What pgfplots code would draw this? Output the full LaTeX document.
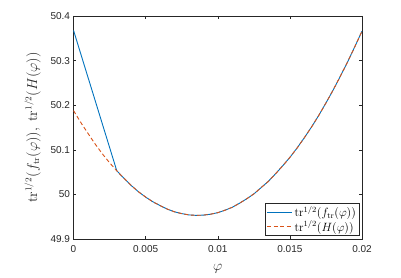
\documentclass[border=0pt]{standalone}
\usepackage[no-math]{fontspec}
\setmainfont{Liberation Sans}
\usepackage{pgfplots}
\pgfplotsset{compat=1.18}
\definecolor{mblue}{rgb}{0,0.447,0.741}
\definecolor{mred}{rgb}{0.85,0.325,0.098}
\definecolor{axgray}{rgb}{0.15,0.15,0.15}
\begin{document}
\fontsize{10pt}{12pt}\selectfont
\begin{tikzpicture}
\useasboundingbox (-73.5pt,-39pt) rectangle (327.5pt,239pt);
\begin{axis}[
  at={(0,0)}, anchor=south west,
  scale only axis, width=288.5pt, height=223pt,
  xmin=0, xmax=0.02, ymin=49.9, ymax=50.4,
  scaled x ticks=false, scaled y ticks=false,
  xtick={0,0.005,0.01,0.015,0.02},
  xticklabels={0,0.005,0.01,0.015,0.02},
  ytick={49.9,50,50.1,50.2,50.3,50.4},
  yticklabels={49.9,50,50.1,50.2,50.3,50.4},
  tick align=inside, major tick length=3pt,
  axis line style={axgray, line width=0.6pt},
  tick style={axgray, line width=0.5pt},
  ticklabel style={font=\fontsize{10pt}{12pt}\selectfont, text=axgray},
  xticklabel style={yshift=-3pt},
  xlabel={$\varphi$},
  ylabel={$\mathrm{tr}^{1/2}(f_{\mathrm{tr}}(\varphi)),\ \mathrm{tr}^{1/2}(H(\varphi))$},
  label style={font=\fontsize{13.5pt}{15pt}\selectfont, text=axgray},
  xlabel style={yshift=-5pt},
  ylabel style={yshift=3pt},
  legend style={draw=axgray, line width=0.5pt, font=\fontsize{12pt}{14pt}\selectfont, inner sep=1pt, row sep=-1pt, at={(0.99,0.0135)}, anchor=south east},
  legend cell align=left,
  legend image code/.code={\draw[#1] (0pt,0pt) -- (25pt,0pt);},
]
\addplot[draw=mblue, color=mblue, line width=0.9pt] coordinates {
(0,50.368) (0.003,50.053) (0.0035,50.036) (0.004,50.020) (0.0045,50.006) (0.005,49.994)
(0.0055,49.9835) (0.006,49.975) (0.0065,49.967) (0.007,49.961) (0.0075,49.957)
(0.008,49.954) (0.0085,49.953) (0.009,49.9535) (0.0095,49.9556) (0.010,49.959)
(0.0105,49.9645) (0.011,49.971) (0.0115,49.980) (0.012,49.990) (0.0125,50.001)
(0.013,50.015) (0.0135,50.029) (0.014,50.046) (0.0145,50.064) (0.015,50.083)
(0.0155,50.104) (0.016,50.127) (0.0165,50.151) (0.017,50.177) (0.0175,50.205)
(0.018,50.234) (0.0185,50.265) (0.019,50.297) (0.0195,50.331) (0.020,50.366)
};
\addlegendentry{$\mathrm{tr}^{1/2}(f_{\mathrm{tr}}(\varphi))$}
\addplot[draw=mred, color=mred, line width=0.9pt, dash pattern=on 4pt off 2.5pt] coordinates {
(0,50.188) (0.0005,50.1615) (0.001,50.137) (0.0015,50.113) (0.002,50.091) (0.0025,50.071)
(0.003,50.053) (0.0035,50.036) (0.004,50.020) (0.0045,50.006) (0.005,49.994)
(0.0055,49.9835) (0.006,49.975) (0.0065,49.967) (0.007,49.961) (0.0075,49.957)
(0.008,49.954) (0.0085,49.953) (0.009,49.9535) (0.0095,49.9556) (0.010,49.959)
(0.0105,49.9645) (0.011,49.971) (0.0115,49.980) (0.012,49.990) (0.0125,50.001)
(0.013,50.015) (0.0135,50.029) (0.014,50.046) (0.0145,50.064) (0.015,50.083)
(0.0155,50.104) (0.016,50.127) (0.0165,50.151) (0.017,50.177) (0.0175,50.205)
(0.018,50.234) (0.0185,50.265) (0.019,50.297) (0.0195,50.331) (0.020,50.366)
};
\addlegendentry{$\mathrm{tr}^{1/2}(H(\varphi))$}
\end{axis}
\end{tikzpicture}
\end{document}
